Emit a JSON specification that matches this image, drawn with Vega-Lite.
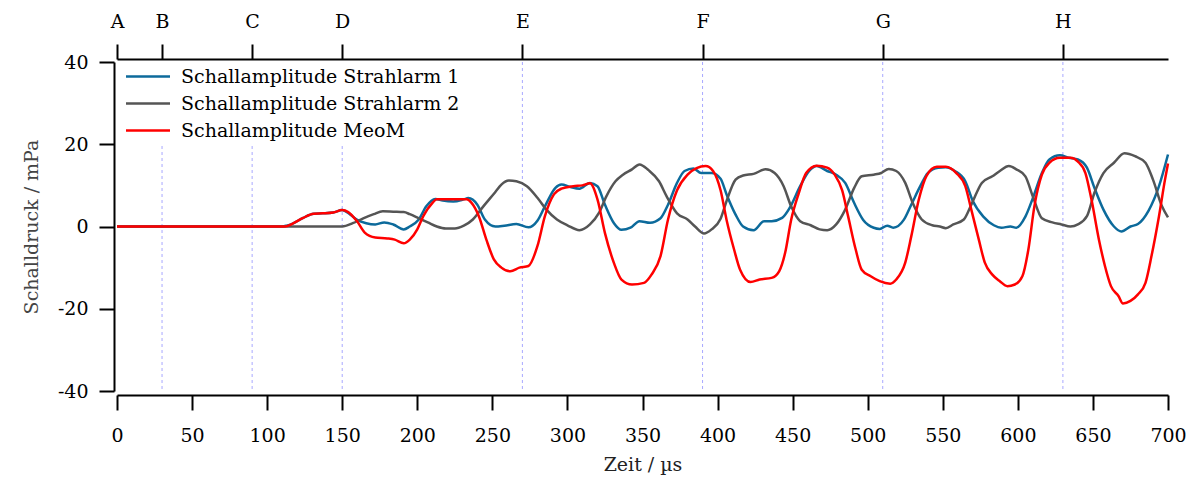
{
  "$schema": "https://vega.github.io/schema/vega-lite/v6.json",
  "width": 1051,
  "height": 329,
  "autosize": {"type": "none"},
  "padding": {"left": 117, "top": 62, "right": 23, "bottom": 89},
  "background": "white",
  "config": {
    "view": {"stroke": null},
    "font": "DejaVu Serif",
    "axis": {
      "grid": false,
      "domainColor": "black",
      "domainWidth": 2,
      "tickColor": "black",
      "tickWidth": 2,
      "tickSize": 15,
      "labelFont": "DejaVu Serif",
      "labelFontSize": 19,
      "labelColor": "black",
      "titleFont": "DejaVu Serif",
      "titleFontSize": 19,
      "titleFontWeight": "normal",
      "labelFlush": false,
      "labelOverlap": false
    }
  },
  "datasets": {
    "markers": [
      {"t": 30, "name": "B"}, {"t": 90, "name": "C"}, {"t": 150, "name": "D"}, {"t": 270, "name": "E"},
      {"t": 390, "name": "F"}, {"t": 510, "name": "G"}, {"t": 630, "name": "H"}
    ],
    "s1": [
      {"t":0,"v":0},{"t":110,"v":0},{"t":113,"v":0.2},{"t":117,"v":0.7},{"t":124,"v":2.1},{"t":131,"v":3.1},{"t":137,"v":3.2},{"t":144,"v":3.4},{"t":150,"v":4.0},{"t":155,"v":3.0},{"t":160,"v":1.6},{"t":166,"v":0.8},{"t":172,"v":0.5},{"t":178,"v":1.0},{"t":184,"v":0.5},{"t":191,"v":-0.7},{"t":195,"v":0},{"t":201,"v":1.7},{"t":206,"v":4.9},{"t":212,"v":6.7},{"t":217,"v":6.3},{"t":224,"v":6.1},{"t":231,"v":6.6},{"t":234,"v":6.9},{"t":240,"v":5.3},{"t":245,"v":1.7},{"t":252,"v":0},{"t":258,"v":0.2},{"t":266,"v":0.6},{"t":274,"v":-0.2},{"t":280,"v":1.4},{"t":285,"v":4.9},{"t":292,"v":9.4},{"t":296,"v":10.2},{"t":302,"v":9.6},{"t":308,"v":9.2},{"t":315,"v":10.6},{"t":320,"v":9.8},{"t":325,"v":5.3},{"t":331,"v":0.8},{"t":336,"v":-0.8},{"t":342,"v":-0.3},{"t":348,"v":1.3},{"t":355,"v":0.9},{"t":362,"v":2.0},{"t":367,"v":5.3},{"t":373,"v":10.6},{"t":378,"v":13.5},{"t":384,"v":14.1},{"t":389,"v":13.0},{"t":396,"v":13.0},{"t":402,"v":11.6},{"t":406,"v":7.8},{"t":412,"v":2.9},{"t":417,"v":0},{"t":424,"v":-0.9},{"t":431,"v":1.3},{"t":436,"v":1.3},{"t":443,"v":2.1},{"t":448,"v":4.5},{"t":455,"v":9.8},{"t":461,"v":13.5},{"t":466,"v":14.7},{"t":473,"v":13.5},{"t":479,"v":12.6},{"t":485,"v":10.6},{"t":491,"v":5.7},{"t":497,"v":1.6},{"t":504,"v":-0.3},{"t":508,"v":-0.6},{"t":513,"v":0.2},{"t":517,"v":-0.3},{"t":524,"v":1.6},{"t":529,"v":5.3},{"t":535,"v":9.8},{"t":540,"v":13.0},{"t":547,"v":14.3},{"t":552,"v":14.4},{"t":558,"v":13.5},{"t":565,"v":11.0},{"t":570,"v":6.2},{"t":577,"v":2.4},{"t":584,"v":0.3},{"t":589,"v":-0.3},{"t":595,"v":0},{"t":599,"v":-0.3},{"t":605,"v":2.4},{"t":610,"v":6.9},{"t":616,"v":13.0},{"t":621,"v":16.3},{"t":628,"v":17.3},{"t":634,"v":16.7},{"t":640,"v":16.3},{"t":646,"v":14.3},{"t":651,"v":9.4},{"t":657,"v":4.1},{"t":664,"v":0},{"t":669,"v":-1.2},{"t":675,"v":0},{"t":680,"v":0.6},{"t":687,"v":3.8},{"t":694,"v":9.8},{"t":700,"v":17.5}
    ],
    "s2": [
      {"t":0,"v":0},{"t":150,"v":0},{"t":157,"v":0.8},{"t":164,"v":2.0},{"t":171,"v":3.0},{"t":177,"v":3.7},{"t":184,"v":3.6},{"t":191,"v":3.5},{"t":195,"v":3.0},{"t":201,"v":2.0},{"t":207,"v":1.0},{"t":213,"v":0},{"t":219,"v":-0.5},{"t":225,"v":-0.5},{"t":231,"v":0.2},{"t":237,"v":1.7},{"t":244,"v":4.9},{"t":252,"v":8.4},{"t":256,"v":10.2},{"t":261,"v":11.2},{"t":266,"v":11.0},{"t":273,"v":9.8},{"t":280,"v":7.0},{"t":286,"v":4.1},{"t":293,"v":1.7},{"t":300,"v":0.3},{"t":308,"v":-0.9},{"t":315,"v":0.5},{"t":321,"v":3.3},{"t":326,"v":7.4},{"t":332,"v":11.0},{"t":337,"v":12.6},{"t":343,"v":13.9},{"t":348,"v":15.1},{"t":354,"v":13.7},{"t":361,"v":11.0},{"t":366,"v":7.4},{"t":373,"v":3.2},{"t":380,"v":1.7},{"t":385,"v":0},{"t":391,"v":-1.7},{"t":396,"v":-0.7},{"t":402,"v":1.9},{"t":406,"v":6.2},{"t":412,"v":11.4},{"t":417,"v":12.4},{"t":424,"v":12.8},{"t":432,"v":13.9},{"t":438,"v":13.0},{"t":444,"v":9.8},{"t":449,"v":4.9},{"t":455,"v":1.3},{"t":462,"v":0.3},{"t":468,"v":-0.7},{"t":473,"v":-0.9},{"t":479,"v":0.5},{"t":485,"v":4.1},{"t":491,"v":9.4},{"t":496,"v":12.2},{"t":504,"v":12.6},{"t":509,"v":13.0},{"t":514,"v":14.0},{"t":519,"v":13.5},{"t":525,"v":10.6},{"t":530,"v":5.7},{"t":536,"v":1.7},{"t":543,"v":0.3},{"t":548,"v":0},{"t":552,"v":-0.4},{"t":557,"v":0.5},{"t":564,"v":1.7},{"t":569,"v":5.3},{"t":576,"v":10.6},{"t":583,"v":12.2},{"t":588,"v":13.5},{"t":594,"v":14.7},{"t":599,"v":13.9},{"t":605,"v":12.2},{"t":610,"v":7.3},{"t":616,"v":2.0},{"t":623,"v":1.0},{"t":629,"v":0.5},{"t":635,"v":0},{"t":640,"v":0.5},{"t":646,"v":2.5},{"t":651,"v":8.2},{"t":657,"v":13.0},{"t":664,"v":15.5},{"t":671,"v":17.8},{"t":678,"v":17.1},{"t":685,"v":15.5},{"t":690,"v":11.4},{"t":696,"v":4.9},{"t":700,"v":2.2}
    ],
    "m": [
      {"t":0,"v":0},{"t":112,"v":0},{"t":117,"v":0.7},{"t":124,"v":2.1},{"t":131,"v":3.1},{"t":137,"v":3.2},{"t":144,"v":3.4},{"t":150,"v":4.0},{"t":154,"v":3.5},{"t":160,"v":1.2},{"t":165,"v":-1.5},{"t":172,"v":-2.7},{"t":180,"v":-2.9},{"t":185,"v":-3.2},{"t":191,"v":-4.1},{"t":195,"v":-3.2},{"t":200,"v":-0.7},{"t":204,"v":2.5},{"t":210,"v":5.7},{"t":213,"v":6.6},{"t":222,"v":6.6},{"t":233,"v":6.6},{"t":236,"v":5.8},{"t":241,"v":2.5},{"t":246,"v":-3.2},{"t":251,"v":-8.0},{"t":256,"v":-10.0},{"t":262,"v":-10.9},{"t":268,"v":-10.0},{"t":274,"v":-9.6},{"t":280,"v":-4.8},{"t":285,"v":2.5},{"t":291,"v":7.8},{"t":296,"v":9.2},{"t":304,"v":9.8},{"t":310,"v":10.0},{"t":315,"v":10.5},{"t":320,"v":6.6},{"t":325,"v":-1.6},{"t":331,"v":-8.9},{"t":336,"v":-12.9},{"t":343,"v":-14.1},{"t":351,"v":-13.7},{"t":356,"v":-11.7},{"t":362,"v":-7.2},{"t":367,"v":1.7},{"t":373,"v":8.8},{"t":380,"v":12.6},{"t":386,"v":14.2},{"t":392,"v":14.7},{"t":397,"v":13.5},{"t":402,"v":8.8},{"t":406,"v":1.6},{"t":411,"v":-5.6},{"t":415,"v":-10.5},{"t":422,"v":-13.5},{"t":428,"v":-12.9},{"t":436,"v":-12.5},{"t":441,"v":-10.9},{"t":445,"v":-6.4},{"t":449,"v":1.6},{"t":454,"v":8.0},{"t":459,"v":13.0},{"t":466,"v":14.8},{"t":473,"v":14.3},{"t":478,"v":12.6},{"t":483,"v":8.8},{"t":487,"v":2.4},{"t":492,"v":-5.6},{"t":496,"v":-10.5},{"t":502,"v":-12.1},{"t":508,"v":-13.3},{"t":515,"v":-13.9},{"t":519,"v":-12.9},{"t":525,"v":-8.8},{"t":529,"v":-2.4},{"t":534,"v":6.5},{"t":539,"v":12.2},{"t":546,"v":14.5},{"t":552,"v":14.5},{"t":559,"v":13.0},{"t":565,"v":9.8},{"t":569,"v":4.1},{"t":574,"v":-3.2},{"t":578,"v":-8.8},{"t":583,"v":-11.7},{"t":588,"v":-13.3},{"t":593,"v":-14.5},{"t":598,"v":-14.1},{"t":603,"v":-12.1},{"t":607,"v":-5.6},{"t":611,"v":4.9},{"t":616,"v":12.6},{"t":621,"v":15.5},{"t":628,"v":16.7},{"t":635,"v":16.7},{"t":640,"v":15.8},{"t":645,"v":13.0},{"t":649,"v":6.6},{"t":654,"v":-3.2},{"t":658,"v":-9.6},{"t":662,"v":-14.5},{"t":667,"v":-16.9},{"t":670,"v":-18.7},{"t":675,"v":-18.1},{"t":680,"v":-16.5},{"t":685,"v":-13.7},{"t":689,"v":-7.2},{"t":694,"v":2.5},{"t":698,"v":11.4},{"t":700,"v":15.3}
    ]
  },
  "layer": [
    {
      "data": {"name": "markers"},
      "mark": {"type": "rule", "stroke": "#a8a8ff", "strokeWidth": 1, "strokeDash": [3, 3]},
      "encoding": {
        "x": {
          "field": "t", "type": "quantitative",
          "scale": {"domain": [0, 700], "nice": false, "zero": false},
          "axis": {
            "orient": "top", "title": null, "offset": 3,
            "values": [0, 30, 90, 150, 270, 390, 510, 630],
            "labelExpr": "datum.value == 0 ? 'A' : datum.value == 30 ? 'B' : datum.value == 90 ? 'C' : datum.value == 150 ? 'D' : datum.value == 270 ? 'E' : datum.value == 390 ? 'F' : datum.value == 510 ? 'G' : 'H'",
            "labelPadding": 13
          }
        }
      }
    },
    {
      "data": {"name": "s1"},
      "mark": {"type": "line", "strokeWidth": 2.5, "interpolate": "monotone"},
      "encoding": {
        "x": {
          "field": "t", "type": "quantitative",
          "scale": {"domain": [0, 700], "nice": false, "zero": false},
          "axis": {
            "orient": "bottom", "offset": 4, "title": "Zeit / µs", "titleColor": "#222",
            "values": [0, 50, 100, 150, 200, 250, 300, 350, 400, 450, 500, 550, 600, 650, 700],
            "labelPadding": 16, "titlePadding": 10
          }
        },
        "y": {
          "field": "v", "type": "quantitative",
          "scale": {"domain": [-40, 40], "nice": false},
          "axis": {
            "orient": "left", "offset": 3, "title": "Schalldruck / mPa", "titleColor": "#444",
            "values": [-40, -20, 0, 20, 40], "labelExpr": "'' + datum.value",
            "labelPadding": 11, "titlePadding": 16
          }
        },
        "color": {
          "datum": "Schallamplitude Strahlarm 1", "type": "nominal",
          "scale": {
            "domain": ["Schallamplitude Strahlarm 1", "Schallamplitude Strahlarm 2", "Schallamplitude MeoM"],
            "range": ["#0c6a9b", "#555555", "#ff0000"]
          },
          "legend": {
            "title": null, "orient": "top-left", "offset": 0, "padding": 5,
            "fillColor": "white", "strokeColor": null,
            "symbolType": "M-1,0L7,0", "symbolSize": 121, "symbolStrokeWidth": 2.5,
            "labelFont": "DejaVu Serif", "labelFontSize": 19, "labelColor": "black",
            "labelOffset": 40, "rowPadding": 7, "labelLimit": 400
          }
        }
      }
    },
    {
      "data": {"name": "s2"},
      "mark": {"type": "line", "strokeWidth": 2.5, "interpolate": "monotone"},
      "encoding": {
        "x": {"field": "t", "type": "quantitative", "scale": {"domain": [0, 700], "nice": false, "zero": false}, "axis": null},
        "y": {"field": "v", "type": "quantitative"},
        "color": {"datum": "Schallamplitude Strahlarm 2", "type": "nominal"}
      }
    },
    {
      "data": {"name": "m"},
      "mark": {"type": "line", "strokeWidth": 2.5, "interpolate": "monotone"},
      "encoding": {
        "x": {"field": "t", "type": "quantitative", "scale": {"domain": [0, 700], "nice": false, "zero": false}, "axis": null},
        "y": {"field": "v", "type": "quantitative"},
        "color": {"datum": "Schallamplitude MeoM", "type": "nominal"}
      }
    }
  ],
  "resolve": {"scale": {"x": "independent"}, "axis": {"x": "independent"}}
}
